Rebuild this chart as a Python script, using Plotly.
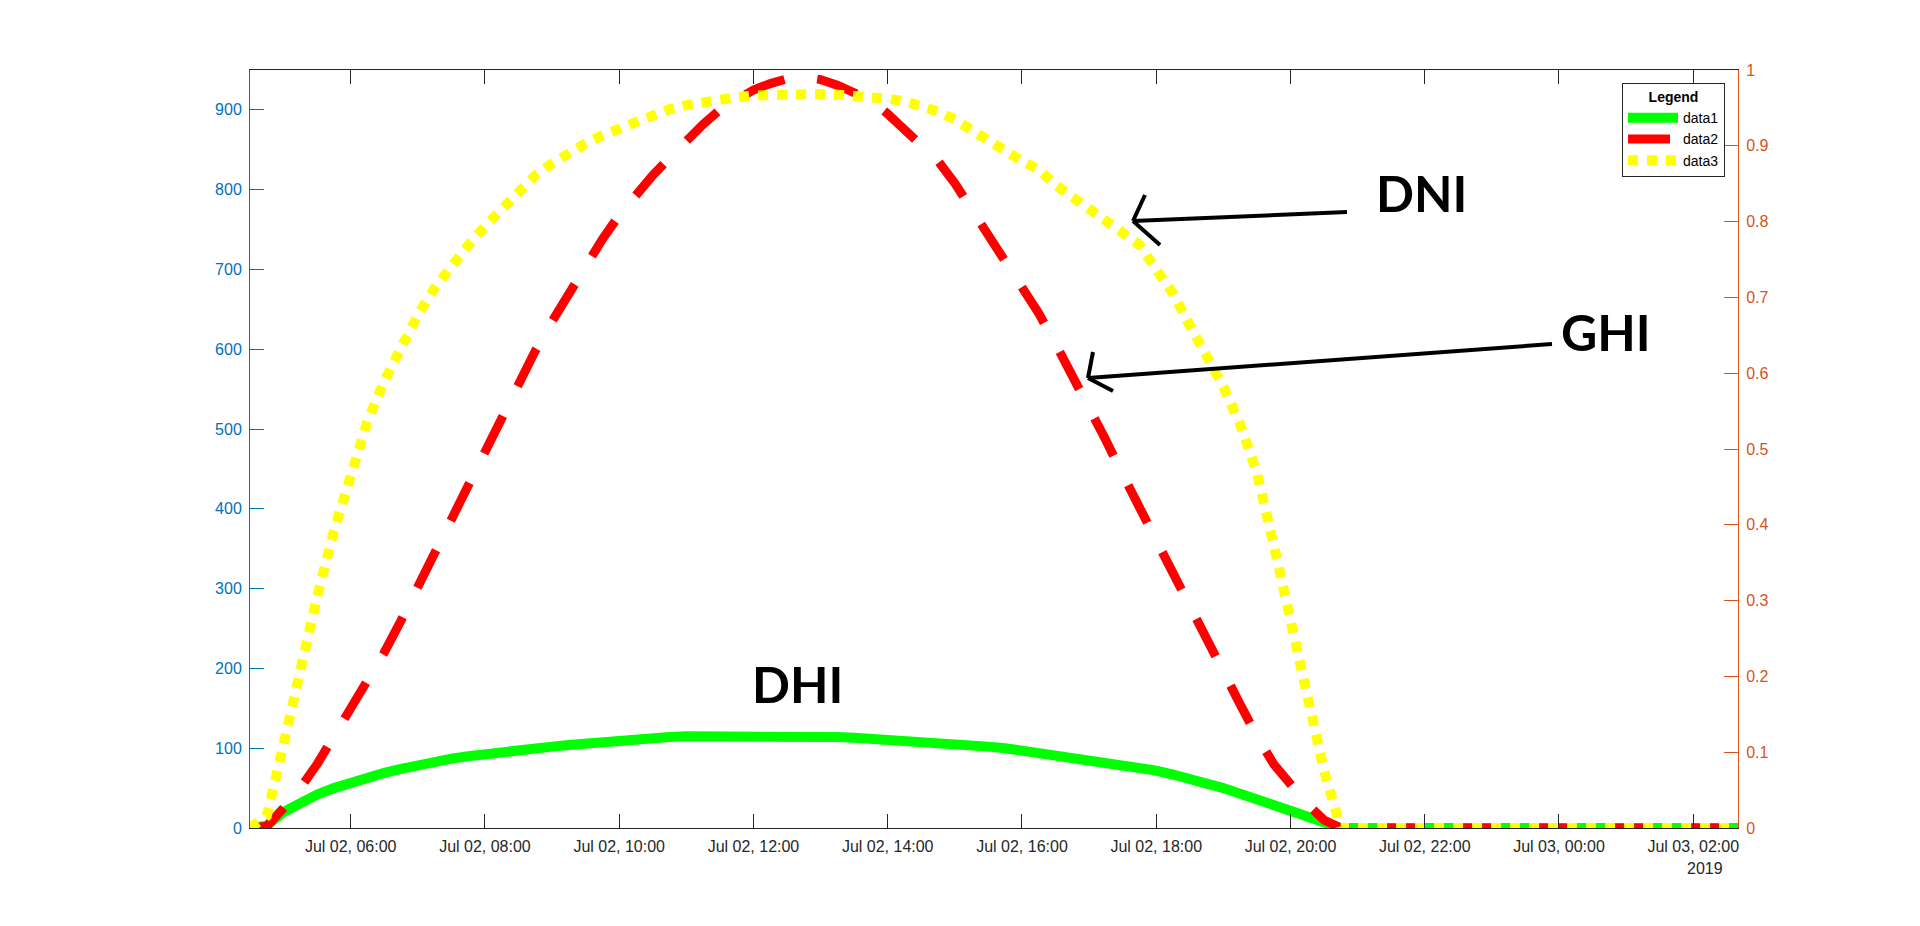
import pandas as pd
import plotly.graph_objects as go

# sample times: 15 min steps over daylight, plus the last (night) sample
day_times = pd.date_range("2019-07-02 04:30", "2019-07-02 20:45", freq="15min")
times = list(day_times) + [pd.Timestamp("2019-07-03 02:40")]

# data1 (green) - DHI
dhi = [0, 3, 20, 32, 42, 50, 57, 63, 69, 74,
       79, 83, 87, 90, 93, 96, 98, 100, 102, 104,
       106, 109, 111, 112, 113, 114, 115, 115, 116, 117,
       116, 117, 117, 116, 114, 114, 113, 112, 111, 110,
       109, 107, 105, 104, 102, 100, 97, 95, 93, 90,
       86, 83, 80, 76, 72, 67, 62, 56, 50, 43,
       36, 28, 20, 12, 5, 0, 0]

# data2 (red) - GHI
ghi = [0, 2, 25, 50, 80, 115, 148, 185, 220, 260,
       303, 346, 388, 430, 475, 517, 557, 598, 635, 670,
       707, 738, 768, 795, 818, 840, 862, 882, 900, 914,
       925, 933, 939, 941, 938, 931, 922, 912, 895, 875,
       856, 836, 808, 776, 744, 710, 675, 645, 607, 568,
       527, 486, 443, 401, 360, 318, 277, 235, 195, 155,
       115, 80, 55, 30, 10, 0, 0]

# data3 (yellow) - DNI
dni = [0, 15, 105, 203, 290, 372, 445, 510, 560, 604,
       643, 677, 705, 730, 754, 776, 798, 818, 833, 847,
       858, 868, 877, 884, 893, 901, 906, 910, 914, 916,
       918, 919, 920, 920, 920, 919, 918, 916, 914, 911,
       906, 898, 888, 876, 861, 849, 836, 825, 806, 791,
       776, 761, 748, 731, 700, 670, 630, 594, 553, 506,
       445, 355, 265, 165, 72, 0, 0]

names = ["data1", "data2", "data3"]

W, H = 1920, 926
ML, MR, MT, MB = 250, 182, 70, 98

BLUE = "#0072BD"
ORANGE = "#D95319"
DARK = "#262626"
TICK_FONT = dict(family="Liberation Sans, Arial", size=16)


def paper(x, y):
    # pixel position on the page -> paper coordinates
    return (x - ML) / (W - ML - MR), (H - MB - y) / (H - MT - MB)


fig = go.Figure()
fig.add_trace(go.Scatter(x=times, y=dhi, name=names[0], mode="lines",
                         line=dict(color="#00FF00", width=10)))
fig.add_trace(go.Scatter(x=times, y=ghi, name=names[1], mode="lines",
                         line=dict(color="#FF0000", width=9, dash="42px,33px")))
fig.add_trace(go.Scatter(x=times, y=dni, name=names[2], mode="lines",
                         line=dict(color="#FFFF00", width=10, dash="10px,9px")))
# empty trace so the right axis is drawn
fig.add_trace(go.Scatter(x=[], y=[], yaxis="y2", showlegend=False, hoverinfo="skip"))

fig.update_layout(
    width=W, height=H,
    margin=dict(l=ML, r=MR, t=MT, b=MB),
    paper_bgcolor="white", plot_bgcolor="white",
    showlegend=True,
    xaxis=dict(
        type="date",
        range=["2019-07-02 04:30", "2019-07-03 02:40"],
        tick0="2019-07-02 06:00", dtick=2 * 3600 * 1000,
        tickformat="%b %d, %H:%M",
        ticks="inside", ticklen=14, tickcolor=DARK,
        showline=True, linecolor=DARK, linewidth=1, mirror="ticks",
        showgrid=False, zeroline=False,
        tickfont=dict(color=DARK, **TICK_FONT),
        ticklabelstandoff=4,
    ),
    yaxis=dict(
        range=[0, 950], dtick=100,
        ticks="inside", ticklen=14, tickcolor=BLUE,
        showline=True, linecolor=BLUE, linewidth=1,
        showgrid=False, zeroline=False,
        tickfont=dict(color=BLUE, **TICK_FONT),
        ticklabelstandoff=4,
    ),
    yaxis2=dict(
        range=[0, 1], dtick=0.1,
        overlaying="y", side="right",
        ticks="inside", ticklen=14, tickcolor=ORANGE,
        showline=True, linecolor=ORANGE, linewidth=1,
        showgrid=False, zeroline=False,
        tickfont=dict(color=ORANGE, **TICK_FONT),
        ticklabelstandoff=4,
    ),
    legend=dict(
        x=paper(1725, 0)[0], y=paper(0, 83)[1],
        xanchor="right", yanchor="top",
        bgcolor="white", bordercolor=DARK, borderwidth=1,
        font=dict(family="Liberation Sans, Arial", size=14, color="black"),
        title=dict(text="<b>Legend</b>", side="top center",
                   font=dict(family="Liberation Sans, Arial", size=14, color="black")),
        tracegroupgap=0,
        itemwidth=50,
    ),
)

# big labels
LABEL_FONT = dict(family="Lato", size=50, color="black", weight="bold")
for text, (px, py) in [("DNI", (1421, 193)), ("GHI", (1606, 332)), ("DHI", (797, 684))]:
    ax, ay = paper(px, py)
    fig.add_annotation(x=ax, y=ay, xref="paper", yref="paper", text=text,
                       showarrow=False, font=LABEL_FONT,
                       xanchor="center", yanchor="middle")

# hand drawn arrows (shaft + two head strokes)
arrows = [
    [((1347, 212), (1133, 221)), ((1133, 221), (1145, 195)), ((1133, 221), (1160, 245))],
    [((1552, 344), (1088, 378)), ((1088, 378), (1093, 352)), ((1088, 378), (1113, 391))],
]
for arrow in arrows:
    for (x0, y0), (x1, y1) in arrow:
        a0, b0 = paper(x0, y0)
        a1, b1 = paper(x1, y1)
        fig.add_shape(type="line", xref="paper", yref="paper",
                      x0=a0, y0=b0, x1=a1, y1=b1,
                      line=dict(color="black", width=4))

# line under the legend title
l0, ly = paper(1622, 106)
l1, _ = paper(1725, 106)
fig.add_shape(type="line", xref="paper", yref="paper", x0=l0, y0=ly, x1=l1, y1=ly,
              line=dict(color=DARK, width=1))

# year label under the last tick
yx, yy = paper(1705, 868)
fig.add_annotation(x=yx, y=yy, xref="paper", yref="paper", text="2019",
                   showarrow=False, font=dict(color=DARK, **TICK_FONT),
                   xanchor="center", yanchor="middle")

fig.write_html("out.html", config={"displayModeBar": False},
               post_script="document.body.style.margin='0';")
